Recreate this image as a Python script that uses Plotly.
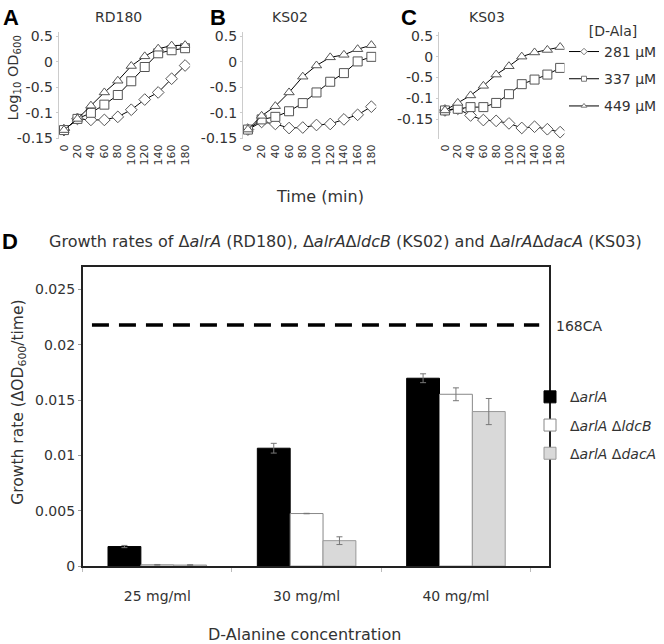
import plotly.graph_objects as go

# %%
# time course data (log10 OD600, plotted on the panel's own tick scale)
time_min = [0, 20, 40, 60, 80, 100, 120, 140, 160, 180]

rd180_281 = [-1.34, -1.12, -1.14, -1.14, -1.08, -0.94, -0.74, -0.60, -0.33, -0.07]
rd180_337 = [-1.34, -1.12, -1.00, -0.84, -0.65, -0.38, -0.10, 0.17, 0.23, 0.27]
rd180_449 = [-1.34, -1.12, -0.86, -0.60, -0.37, -0.08, 0.11, 0.26, 0.32, 0.33]

ks02_281 = [-1.33, -1.18, -1.22, -1.30, -1.29, -1.24, -1.22, -1.13, -1.04, -0.88]
ks02_337 = [-1.33, -1.13, -1.08, -0.97, -0.81, -0.60, -0.39, -0.22, 0.01, 0.10]
ks02_449 = [-1.33, -1.06, -0.87, -0.60, -0.29, -0.07, 0.09, 0.14, 0.25, 0.33]

ks03_281 = [-1.29, -1.25, -1.41, -1.52, -1.54, -1.60, -1.71, -1.68, -1.74, -1.81]
ks03_337 = [-1.29, -1.25, -1.21, -1.21, -1.11, -0.90, -0.66, -0.55, -0.43, -0.27]
ks03_449 = [-1.29, -1.11, -0.93, -0.70, -0.43, -0.23, 0.00, 0.10, 0.16, 0.23]

conc_labels = ["281 µM", "337 µM", "449 µM"]
conc_symbols = ["diamond", "square", "triangle-up"]

ab_tickvals = [0.5, 0, -0.5, -1, -1.5]
ab_ticktext = ["0.5", "0", "-0.5", "-0.1", "-0.15"]
c_tickvals = [0.5, 0, -0.5, -1, -1.5, -2]
c_ticktext = ["0.5", "0", "-0.5", "-0.1", "-0.15", "-0.2"]

# growth rate data (panel D)
dala_labels = ["25 mg/ml", "30 mg/ml", "40 mg/ml"]
dala_pos = [0, 1, 2]
strain_names = ["Δ<i>arlA</i>", "Δ<i>arlA</i> Δ<i>ldcB</i>", "Δ<i>arlA</i> Δ<i>dacA</i>"]
rate_alra = [0.00177, 0.01065, 0.01697]
rate_alra_ldcb = [0.00012, 0.00475, 0.01552]
rate_alra_daca = [0.00010, 0.00230, 0.01396]
err_alra = [0.00010, 0.00044, 0.00040]
err_alra_ldcb = [0.00003, 0.00002, 0.00058]
err_alra_daca = [0.00003, 0.00035, 0.00118]
rate_168ca = 0.02177

W, H = 664, 644
font = "DejaVu Sans"
txt = "#333333"

def px(x):
    return x / W

def py(y):
    return 1 - y / H

fig = go.Figure()

# %%
# top panels
panels = [
    ("x", "y", [rd180_281, rd180_337, rd180_449]),
    ("x2", "y2", [ks02_281, ks02_337, ks02_449]),
    ("x3", "y3", [ks03_281, ks03_337, ks03_449]),
]
for xa, ya, series in panels:
    for vals, sym in zip(series, conc_symbols):
        fig.add_trace(go.Scatter(
            x=time_min, y=vals, xaxis=xa, yaxis=ya, mode="lines+markers",
            line=dict(color="black", width=1),
            marker=dict(symbol=sym, size=9, color="white", line=dict(color="#555555", width=1)),
            showlegend=False))

# legend-only entries for the concentrations
for i, (lab, sym) in enumerate(zip(conc_labels, conc_symbols)):
    fig.add_trace(go.Scatter(
        x=[None], y=[None], mode="lines+markers", name=lab, legend="legend",
        legendgroup="c%d" % i,
        line=dict(color="black", width=1),
        marker=dict(symbol=sym, size=5, color="white", line=dict(color="#777777", width=1))))

# %%
# panel D bars
bar_styles = [
    (rate_alra, err_alra, "black", "black"),
    (rate_alra_ldcb, err_alra_ldcb, "white", "#888888"),
    (rate_alra_daca, err_alra_daca, "#d9d9d9", "#999999"),
]
for i, (name, (vals, errs, fill, edge)) in enumerate(zip(strain_names, bar_styles)):
    fig.add_trace(go.Bar(
        x=dala_pos, y=vals, name=name, xaxis="x4", yaxis="y4", legend="legend2",
        legendgroup="s%d" % i,
        marker=dict(color=fill, line=dict(color=edge, width=1)),
        error_y=dict(type="data", array=errs, color="#777777", thickness=1, width=3)))

fig.add_shape(type="line", xref="x4 domain", yref="y4", x0=0.02, x1=0.98,
              y0=rate_168ca, y1=rate_168ca,
              line=dict(color="black", width=3.5, dash="17px,10px"))

# %%
# axes
top_x = dict(tickmode="array", tickvals=time_min, ticktext=[str(t) for t in time_min],
             tickangle=-90, tickfont=dict(size=11, color=txt, family=font),
             showline=False, showgrid=False, zeroline=False, ticks="", ticklabelstandoff=2)
top_y = dict(showline=True, linecolor="#cccccc", linewidth=1, showgrid=False, zeroline=False,
             ticks="outside", ticklen=2, tickcolor="#cccccc",
             tickfont=dict(size=14, color=txt, family=font))

ydom = [py(137), py(28)]
fig.update_layout(
    xaxis=dict(top_x, domain=[px(58), px(190)], range=[-7.8, 187.5], anchor="y"),
    yaxis=dict(top_y, domain=ydom, range=[-1.52, 0.58], tickvals=ab_tickvals,
               ticktext=ab_ticktext, anchor="x"),
    xaxis2=dict(top_x, domain=[px(243), px(377)], range=[-7.3, 187.2], anchor="y2"),
    yaxis2=dict(top_y, domain=ydom, range=[-1.52, 0.58], tickvals=ab_tickvals,
                ticktext=ab_ticktext, anchor="x2"),
    xaxis3=dict(top_x, domain=[px(440), px(566)], range=[-9.3, 186.7], anchor="y3"),
    yaxis3=dict(top_y, domain=ydom, range=[-1.98, 0.58], tickvals=c_tickvals,
                ticktext=c_ticktext, anchor="x3"),
    xaxis4=dict(domain=[px(82), px(550)], range=[-0.5, 2.62], anchor="y4",
                tickmode="array", tickvals=dala_pos, ticktext=dala_labels, ticks="",
                ticklabelstandoff=16, tickfont=dict(size=14, color=txt, family=font),
                minor=dict(tick0=0.5, dtick=1, ticks="outside", ticklen=4, tickcolor="#bbbbbb"),
                showline=True, linecolor="#222222", linewidth=1.5, mirror=True,
                showgrid=False, zeroline=False),
    yaxis4=dict(domain=[py(572.7), py(267)], range=[0, 0.02705], anchor="x4",
                tickmode="array", tickvals=[0, 0.005, 0.01, 0.015, 0.02, 0.025],
                ticktext=["0", "0.005", "0.01", "0.015", "0.02", "0.025"],
                ticks="outside", ticklen=3, tickcolor="#999999",
                tickfont=dict(size=14, color=txt, family=font),
                showline=True, linecolor="#222222", linewidth=1.5, mirror=True,
                showgrid=False, zeroline=False),
    barmode="group", bargap=0.34, bargroupgap=0,
)

# %%
# legends
fig.update_layout(
    legend=dict(x=1, y=py(13), xanchor="right", yanchor="top",
                title=dict(text="[D-Ala]", side="top center", font=dict(size=14, color=txt, family=font)),
                font=dict(size=14, color=txt, family=font), tracegroupgap=6,
                itemwidth=30, bgcolor="rgba(0,0,0,0)"),
    legend2=dict(x=1, y=py(384), xanchor="right", yanchor="top",
                 font=dict(size=14, color=txt, family=font), tracegroupgap=7,
                 itemwidth=30, bgcolor="rgba(0,0,0,0)"),
)

# %%
# text
ann = []
def add_text(x, y, text, size=14, **kw):
    ann.append(dict(x=px(x), y=py(y), xref="paper", yref="paper", text=text, showarrow=False,
                    xanchor=kw.pop("xanchor", "center"), yanchor="middle",
                    font=dict(size=size, color=kw.pop("color", txt), family=kw.pop("family", font)),
                    **kw))

for lx, letter in [(10, "A"), (218, "B"), (410, "C"), (9, "D")]:
    ly = 241 if letter == "D" else 13
    add_text(lx, ly, "<b>%s</b>" % letter, size=22, color="black", family="Liberation Sans")
add_text(118, 12, "RD180")
add_text(290, 12, "KS02")
add_text(488, 12, "KS03")
add_text(320, 195, "Time (min)", size=16)
add_text(13, 74, "Log<sub>10</sub> OD<sub>600</sub>", size=14.5, textangle=-90)
add_text(346, 241, "Growth rates of Δ<i>alrA</i> (RD180), Δ<i>alrA</i>Δ<i>ldcB</i> (KS02) and "
         "Δ<i>alrA</i>Δ<i>dacA</i> (KS03)", size=16)
add_text(18, 405, "Growth rate (ΔOD<sub>600</sub>/time)", size=15.5, textangle=-90)
add_text(556, 328, "168CA", xanchor="left")
add_text(305, 642, "D-Alanine concentration", size=16)

fig.update_layout(
    width=W, height=H, margin=dict(l=0, r=0, t=0, b=0),
    paper_bgcolor="white", plot_bgcolor="white",
    annotations=ann, font=dict(family=font, color=txt),
)

# the page body has a default 8px margin; drop it so the figure sits at the corner
fig.write_html("out.html", config={"displayModeBar": False},
               post_script="document.body.style.margin='0px';")
